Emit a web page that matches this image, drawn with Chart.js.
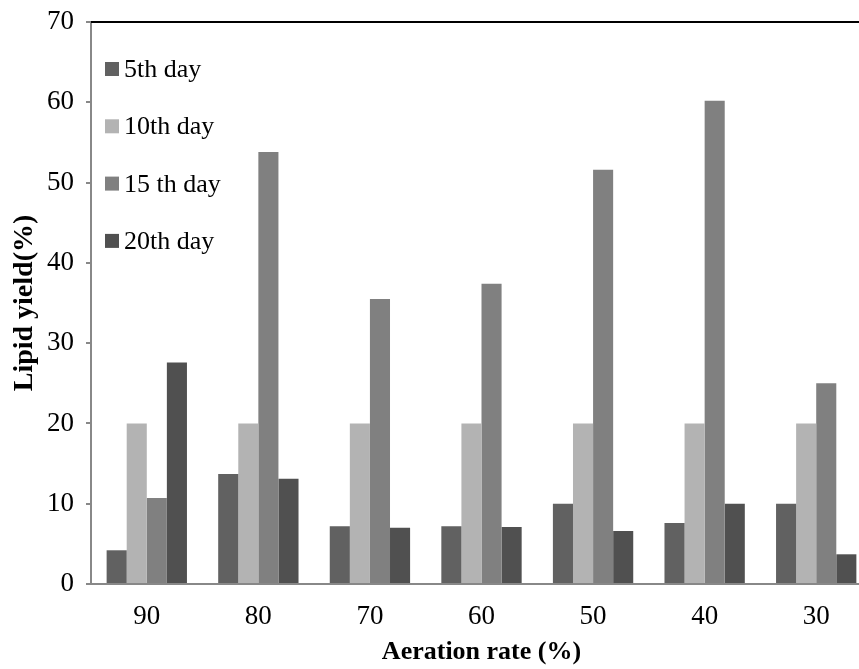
<!DOCTYPE html>
<html>
<head>
<meta charset="utf-8">
<script src="https://cdn.jsdelivr.net/npm/chart.js@4.4.1/dist/chart.umd.min.js"></script>
<style>
  html, body { margin: 0; padding: 0; background: #fff; overflow: hidden; }
  #wrap { width: 872px; height: 669px; }
</style>
</head>
<body>
<div id="wrap"><canvas id="lipidChart" width="872" height="669"></canvas></div>
<script>
// Aeration rate categories
const aerationRates = ['90', '80', '70', '60', '50', '40', '30'];

// Lipid yield (%) per sampling day
const day5 = [4.2, 13.7, 7.2, 7.2, 10.0, 7.6, 10.0];
const day10 = [20.0, 20.0, 20.0, 20.0, 20.0, 20.0, 20.0];
const day15 = [10.7, 53.8, 35.5, 37.4, 51.6, 60.2, 25.0];
const day20 = [27.6, 13.1, 7.0, 7.1, 6.6, 10.0, 3.7];

const seriesNames = ['5th day', '10th day', '15 th day', '20th day'];
const seriesColors = ['#616161', '#b3b3b3', '#808080', '#505050'];

const serif = "'Liberation Serif', 'DejaVu Serif', serif";

// Legend drawn inside the plot area, top left
const innerLegend = {
    id: 'innerLegend',
    afterDraw(chart) {
        const ctx = chart.ctx;
        const area = chart.chartArea;
        ctx.save();
        // top border line of the plot
        ctx.strokeStyle = '#000';
        ctx.lineWidth = 2;
        ctx.beginPath();
        ctx.moveTo(area.left, area.top);
        ctx.lineTo(area.right, area.top);
        ctx.stroke();

        ctx.font = "26px " + serif;
        ctx.textBaseline = 'alphabetic';
        chart.data.datasets.forEach((ds, i) => {
            const y = area.top + 47 + i * 57.3;
            ctx.fillStyle = ds.backgroundColor;
            ctx.fillRect(area.left + 14, y - 7, 14, 14);
            ctx.fillStyle = '#000';
            ctx.fillText(ds.label, area.left + 33, y + 8);
        });
        ctx.restore();
    }
};

const ctx = document.getElementById('lipidChart').getContext('2d');
const lipidChart = new Chart(ctx, {
    type: 'bar',
    data: {
        labels: aerationRates,
        datasets: [
            { label: seriesNames[0], data: day5, backgroundColor: seriesColors[0] },
            { label: seriesNames[1], data: day10, backgroundColor: seriesColors[1] },
            { label: seriesNames[2], data: day15, backgroundColor: seriesColors[2] },
            { label: seriesNames[3], data: day20, backgroundColor: seriesColors[3] }
        ]
    },
    options: {
        responsive: false,
        animation: false,
        layout: { padding: { top: 22, right: 0, bottom: 1, left: 0 } },
        datasets: {
            bar: { categoryPercentage: 0.72, barPercentage: 1.0, borderWidth: 0 }
        },
        scales: {
            x: {
                grid: { display: false },
                border: { color: '#888', width: 2 },
                ticks: {
                    color: '#000',
                    font: { family: serif, size: 27 },
                    padding: 9
                },
                title: {
                    display: true,
                    text: 'Aeration rate (%)',
                    color: '#000',
                    font: { family: serif, size: 26, weight: 'bold' },
                    padding: { top: 0, bottom: 0 }
                },
                afterFit(scale) { scale.height = 84; }
            },
            y: {
                min: 0,
                max: 70,
                ticks: {
                    stepSize: 10,
                    color: '#000',
                    font: { family: serif, size: 27 },
                    padding: 12
                },
                grid: {
                    drawOnChartArea: false,
                    drawTicks: true,
                    tickLength: 5,
                    color: '#888',
                    lineWidth: 2
                },
                border: { color: '#888', width: 2 },
                title: {
                    display: true,
                    text: 'Lipid yield(%)',
                    color: '#000',
                    font: { family: serif, size: 28, weight: 'bold' },
                    padding: { top: 8, bottom: 0 }
                },
                afterFit(scale) {
                    scale.width = 91;
                    scale.paddingTop = 0;
                    scale.paddingBottom = 0;
                }
            }
        },
        plugins: {
            legend: { display: false },
            tooltip: { enabled: false }
        }
    },
    plugins: [innerLegend]
});
</script>
</body>
</html>
